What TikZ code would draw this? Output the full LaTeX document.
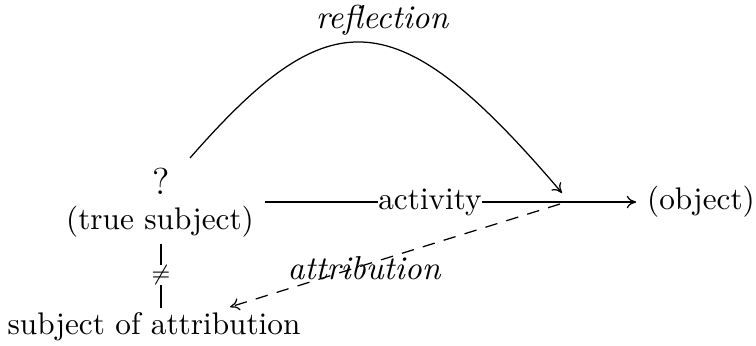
\documentclass[tikz,border=0pt]{standalone}
\usepackage{tikz}
\usetikzlibrary{arrows.meta,positioning}

\begin{document}
\begin{tikzpicture}[x=0.32pt, y=-0.32pt, >={To[length=3pt,width=4pt]}, every node/.style={align=center},
    lbl/.style={font=\fontsize{10.6}{12}\selectfont\itshape}]
  \useasboundingbox (0,0) rectangle (756,345);
  \node (ts) at (160,222) {(true subject)};
  \node[font=\large] (q) at (161,181) {?};
  \node (obj) at (701,202) {(object)};
  \node (soa) at (154,327) {subject of attribution};
  \node[lbl] (refl) at (382,20) {reflection};
  \node[fill=white, inner sep=0pt] (act) at (430,202) {activity};
  \node[lbl, inner sep=0pt] (attr) at (364,268) {attribution};
  \coordinate (rstart) at (190,158);
  \coordinate (meet) at (562,193);
  \coordinate (dstart) at (560,204);
  \coordinate (dend) at (230,307);
  \draw[->] (ts.east |- act.west) -- (act) -- (obj.west);
  \draw[->] (rstart) .. controls (330,-2) and (396,-2) .. (meet);
  \draw[->, dash pattern=on 4pt off 3pt] (dstart) -- (dend);
  \draw[shorten <=-1.5pt, shorten >=-2pt] (ts.south -| 161,0) -- node[fill=white, inner sep=0pt, font=\scriptsize] {$\neq$} (soa.north -| 161,0);
\end{tikzpicture}
\end{document}
